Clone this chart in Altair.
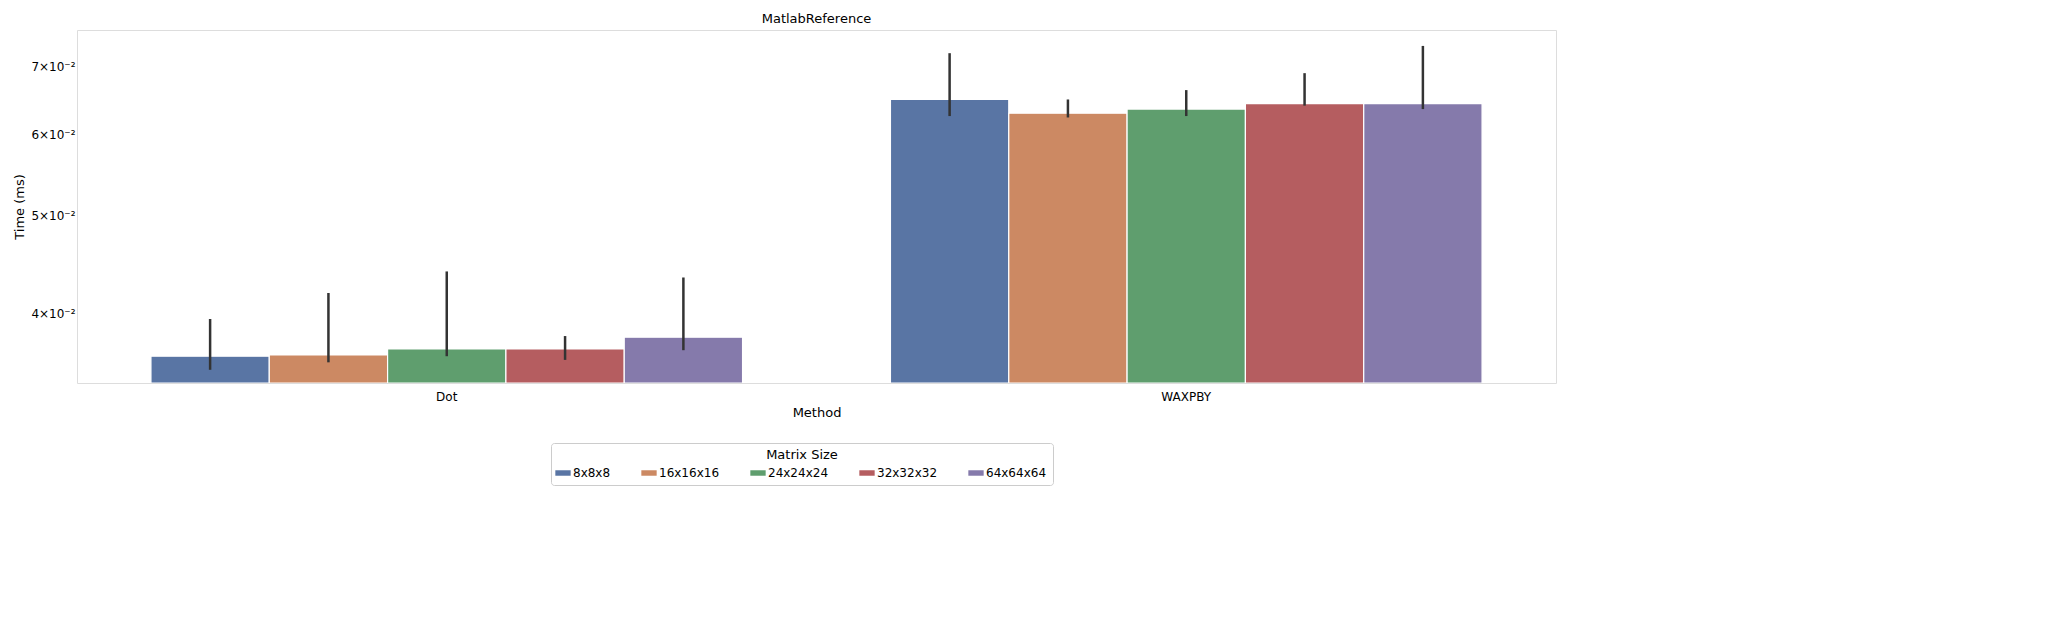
import altair as alt
import pandas as pd

methods = ["Dot", "WAXPBY"]
sizes = ["8x8x8", "16x16x16", "24x24x24", "32x32x32", "64x64x64"]
colors = ["#5975a4", "#cc8963", "#5f9e6e", "#b55d60", "#857aab"]

# mean time and error-bar ends, per method, in size order
dot_mean = [0.0363, 0.0364, 0.0369, 0.0369, 0.0379]
dot_lo = [0.0352, 0.0358, 0.0363, 0.0360, 0.0368]
dot_hi = [0.0395, 0.0419, 0.0440, 0.0380, 0.0434]
wax_mean = [0.0650, 0.0630, 0.0636, 0.0644, 0.0644]
wax_lo = [0.0626, 0.0624, 0.0626, 0.0641, 0.0636]
wax_hi = [0.0722, 0.0650, 0.0664, 0.0690, 0.0734]

rows = []
for m, means, los, his in [("Dot", dot_mean, dot_lo, dot_hi), ("WAXPBY", wax_mean, wax_lo, wax_hi)]:
    for s, v, lo, hi in zip(sizes, means, los, his):
        rows.append({"Method": m, "Matrix Size": s, "time": v, "lo": lo, "hi": hi})
df = pd.DataFrame(rows)

H = 353
ymin = 0.03416
yscale = alt.Scale(type="log", domain=[ymin, 0.0761], nice=False)
x = alt.X("Method:N", sort=methods, title="Method",
          scale=alt.Scale(paddingInner=0.2, paddingOuter=0.1),
          axis=alt.Axis(labelAngle=0, ticks=False, domain=False, labelFontSize=12,
                        titleFontSize=13, titleFontWeight="normal", labelPadding=8))
xo = alt.XOffset("Matrix Size:N", sort=sizes, scale=alt.Scale(paddingInner=0))

base = alt.Chart(df)
bars = base.mark_bar(stroke="white", strokeWidth=1.2, clip=True).encode(
    x=x, xOffset=xo,
    y=alt.Y("time:Q", scale=yscale, title="Time (ms)",
            axis=alt.Axis(values=[0.04, 0.05, 0.06, 0.07], grid=False, domain=False, ticks=False,
                          labelExpr="format(datum.value*100, '.0f') + '×10⁻²'",
                          labelFontSize=12, titleFontSize=13, titleFontWeight="normal")),
    y2=alt.Y2(datum=ymin),
    color=alt.Color("Matrix Size:N", sort=sizes, scale=alt.Scale(domain=sizes, range=colors),
                    legend=alt.Legend(orient="none", legendX=474, legendY=413,
                                      direction="horizontal", columns=5,
                                      titleAnchor="middle", titleFontSize=13, titleFontWeight="normal",
                                      labelFontSize=12, symbolType="M-1.4,-0.5H1.4V0.5H-1.4Z",
                                      symbolSize=120, symbolStrokeWidth=0, columnPadding=30,
                                      strokeColor="#cccccc", padding=6, cornerRadius=3,
                                      titleOrient="top")),
)
errs = base.mark_rule(color="#333333", strokeWidth=2.5).encode(
    x=x, xOffset=xo, y=alt.Y("lo:Q", scale=yscale), y2="hi:Q"
)

chart = (bars + errs).properties(
    width=1479, height=H,
    title=alt.TitleParams("MatlabReference", fontSize=13, fontWeight="normal"),
).configure_view(stroke="#cccccc", strokeWidth=1.2).configure(font="DejaVu Sans")

chart.save("out.html", embed_options={"renderer": "svg", "actions": False})
